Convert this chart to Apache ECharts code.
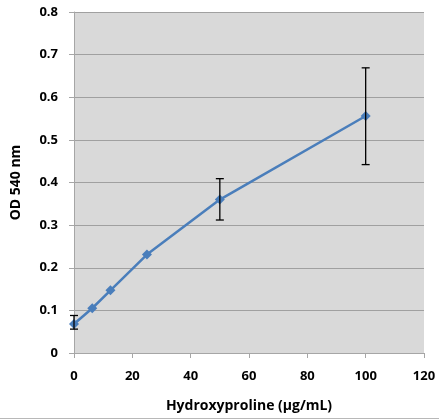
<!DOCTYPE html>
<html>
<head>
<meta charset="utf-8">
<script src="https://cdn.jsdelivr.net/npm/echarts@6/dist/echarts.min.js"></script>
<style>
  html, body { margin: 0; padding: 0; background: #fff; }
  #main { width: 439px; height: 418px; border-bottom: 1px solid #b8b8b8; }
</style>
</head>
<body>
<div id="main"></div>
<script>
// concentrations (µg/mL) and OD values
var conc = [0, 6.25, 12.5, 25, 50, 100];
var od = [0.068, 0.105, 0.147, 0.231, 0.36, 0.556];
// error bars (low / high), null where none drawn
var errLow = [0.056, null, null, null, 0.312, 0.442];
var errHigh = [0.088, null, null, null, 0.409, 0.669];

var lineData = conc.map(function (c, i) { return [c, od[i]]; });
var errData = [];
conc.forEach(function (c, i) {
  if (errLow[i] != null) errData.push([c, errLow[i], errHigh[i]]);
});

var chart = echarts.init(document.getElementById('main'));
var labelFont = { fontFamily: 'Open Sans', fontWeight: 'bold', fontSize: 13, color: '#000' };

chart.setOption({
  animation: false,
  grid: { left: 74, right: 15, top: 12, bottom: 62, backgroundColor: '#d9d9d9', show: true, borderWidth: 0 },
  xAxis: {
    type: 'value', min: 0, max: 120, interval: 20,
    name: 'Hydroxyproline (µg/mL)', nameLocation: 'middle', nameGap: 46,
    nameTextStyle: { fontFamily: 'Open Sans', fontWeight: 'bold', fontSize: 14, color: '#000' },
    axisLine: { lineStyle: { color: '#a6a6a6' } },
    axisTick: { show: true, length: 5, lineStyle: { color: '#a6a6a6' } },
    axisLabel: Object.assign({ margin: 17 }, labelFont),
    splitLine: { show: false }
  },
  yAxis: {
    type: 'value', min: 0, max: 0.8, interval: 0.1,
    name: 'OD 540 nm', nameLocation: 'middle', nameGap: 51, nameRotate: 90,
    nameTextStyle: { fontFamily: 'Open Sans', fontWeight: 'bold', fontSize: 14, color: '#000' },
    axisLine: { show: true, lineStyle: { color: '#a6a6a6' } },
    axisTick: { show: true, length: 5, lineStyle: { color: '#a6a6a6' } },
    axisLabel: Object.assign({ margin: 16, formatter: function (v) { return String(+v.toFixed(1)); } }, labelFont),
    splitLine: { show: true, lineStyle: { color: '#a0a0a0', width: 1 } }
  },
  series: [
    {
      type: 'line',
      data: lineData,
      symbol: 'diamond',
      symbolSize: 10,
      lineStyle: { color: '#4a7ebb', width: 2.5 },
      itemStyle: { color: '#4a7ebb' },
      z: 3
    },
    {
      type: 'custom',
      data: errData,
      z: 4,
      renderItem: function (params, api) {
        var x = api.value(0);
        var lo = api.coord([x, api.value(1)]);
        var hi = api.coord([x, api.value(2)]);
        var w = 4;
        var st = { stroke: '#000', lineWidth: 1.3 };
        return {
          type: 'group',
          children: [
            { type: 'line', shape: { x1: lo[0], y1: lo[1], x2: hi[0], y2: hi[1] }, style: st },
            { type: 'line', shape: { x1: lo[0] - w, y1: lo[1], x2: lo[0] + w, y2: lo[1] }, style: st },
            { type: 'line', shape: { x1: hi[0] - w, y1: hi[1], x2: hi[0] + w, y2: hi[1] }, style: st }
          ]
        };
      }
    }
  ]
});
</script>
</body>
</html>
